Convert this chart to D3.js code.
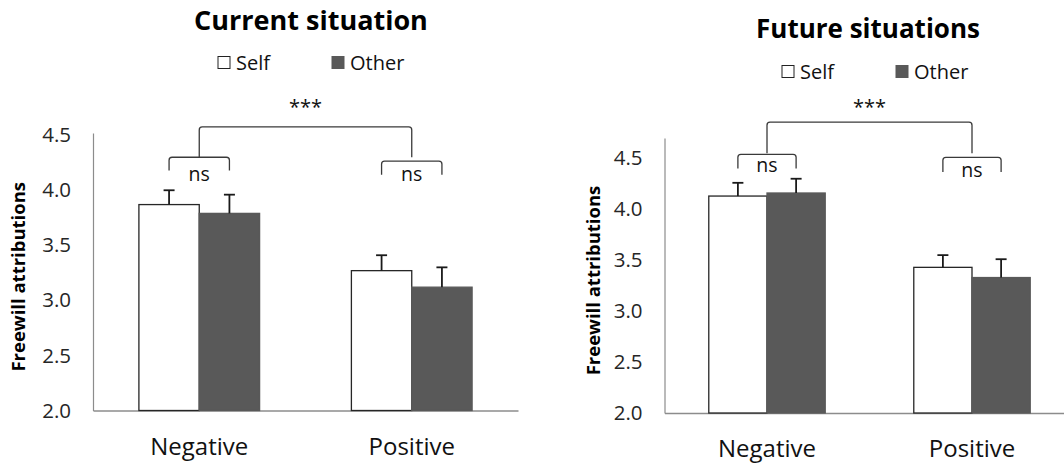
<!DOCTYPE html>
<html>
<head>
<meta charset="utf-8">
<script src="https://cdn.jsdelivr.net/npm/d3@7"></script>
<style>
  html, body { margin: 0; padding: 0; background: #fff; }
  svg { display: block; font-family: "Open Sans", "Noto Sans", sans-serif; }
</style>
</head>
<body>
<svg id="chart" width="1064" height="465"></svg>
<script>
// Category and group names
const categories = ["Negative", "Positive"];
const groups = ["Self", "Other"];
const yTicks = [2.0, 2.5, 3.0, 3.5, 4.0, 4.5];

// Current situation: means and standard errors (Negative, Positive)
const currentSelf = [3.87, 3.27];
const currentOther = [3.79, 3.12];
const currentSelfErr = [0.13, 0.14];
const currentOtherErr = [0.17, 0.18];

// Future situations: means and standard errors (Negative, Positive)
const futureSelf = [4.13, 3.43];
const futureOther = [4.16, 3.33];
const futureSelfErr = [0.13, 0.12];
const futureOtherErr = [0.14, 0.18];

// Significance labels
const mainEffectLabel = "***";
const pairLabels = ["ns", "ns"];

const svg = d3.select("#chart");
const fills = { Self: "#ffffff", Other: "#595959" };

function drawPanel(p) {
  const g = svg.append("g");
  const x0 = d3.scaleBand().domain(categories).range([p.left, p.right]).padding(0);
  const x1 = d3.scaleBand().domain(groups)
    .range([x0.bandwidth() * 0.216, x0.bandwidth() * 0.784]).padding(0);
  const y = d3.scaleLinear().domain([2, p.yMax]).range([p.bottom, p.top]);

  // Title
  g.append("text")
    .attr("x", p.titleX).attr("y", p.titleY)
    .attr("text-anchor", "middle")
    .attr("font-size", p.titleSize).attr("font-weight", 700).attr("fill", "#000")
    .text(p.title);

  // Legend
  const leg = g.append("g").attr("transform", `translate(${p.legendX},${p.legendY})`);
  groups.forEach((name, i) => {
    const item = leg.append("g").attr("transform", `translate(${i * 114},0)`);
    item.append("rect")
      .attr("x", 0).attr("y", -6.5).attr("width", 12).attr("height", 12)
      .attr("fill", fills[name])
      .attr("stroke", name === "Self" ? "#222" : "#595959").attr("stroke-width", 1);
    item.append("text")
      .attr("x", 18).attr("y", 0).attr("dy", "0.35em")
      .attr("font-size", 20).attr("fill", "#111")
      .text(name);
  });

  // Y axis (line only, no tick marks)
  const yAxis = d3.axisLeft(y).tickValues(yTicks).tickFormat(d3.format(".1f"))
    .tickSize(0).tickPadding(22);
  const ya = g.append("g").attr("transform", `translate(${p.left},0)`).call(yAxis);
  ya.select(".domain").attr("stroke", "#8c8c8c").attr("stroke-width", 1.2);
  ya.selectAll("text").attr("font-size", 20.5).attr("fill", "#262626")
    .attr("font-family", "'Open Sans', sans-serif");

  // X axis (baseline and category labels)
  const xAxis = d3.axisBottom(x0).tickSize(0).tickPadding(27);
  const xa = g.append("g").attr("transform", `translate(0,${p.bottom})`).call(xAxis);
  xa.select(".domain").attr("stroke", "#8c8c8c").attr("stroke-width", 1.5);
  xa.selectAll("text").attr("font-size", 24).attr("fill", "#111")
    .attr("font-family", "'Open Sans', sans-serif");

  // Y axis title
  g.append("text")
    .attr("transform", `translate(${p.yTitleX},${(p.top + p.bottom) / 2 + 5}) rotate(-90)`)
    .attr("text-anchor", "middle").attr("dy", "0.35em")
    .attr("font-size", 18.5).attr("font-weight", 700).attr("fill", "#000")
    .text("Freewill attributions");

  // Bars
  const rows = [];
  categories.forEach((c, i) => {
    rows.push({ cat: c, grp: "Self", v: p.self[i], e: p.selfErr[i] });
    rows.push({ cat: c, grp: "Other", v: p.other[i], e: p.otherErr[i] });
  });
  const cx = d => x0(d.cat) + x1(d.grp) + x1.bandwidth() / 2;

  g.selectAll("rect.bar").data(rows).join("rect")
    .attr("class", "bar")
    .attr("x", d => x0(d.cat) + x1(d.grp))
    .attr("y", d => y(d.v))
    .attr("width", x1.bandwidth())
    .attr("height", d => y(2) - y(d.v))
    .attr("fill", d => fills[d.grp])
    .attr("stroke", d => d.grp === "Self" ? "#262626" : "#595959")
    .attr("stroke-width", 1.3);

  // Upper error bars
  const eb = g.selectAll("g.err").data(rows).join("g").attr("class", "err")
    .attr("stroke", "#1a1a1a").attr("stroke-width", 1.8);
  eb.append("line")
    .attr("x1", cx).attr("x2", cx)
    .attr("y1", d => y(d.v)).attr("y2", d => y(d.v + d.e));
  eb.append("line")
    .attr("x1", d => cx(d) - 5.5).attr("x2", d => cx(d) + 5.5)
    .attr("y1", d => y(d.v + d.e)).attr("y2", d => y(d.v + d.e));

  // Bracket path with softly rounded corners
  const bracket = (xa, xb, top, bot) => {
    const r = 3;
    return `M${xa},${bot} L${xa},${top + r} Q${xa},${top} ${xa + r},${top} ` +
           `L${xb - r},${top} Q${xb},${top} ${xb},${top + r} L${xb},${bot}`;
  };
  const brk = g.append("g").attr("fill", "none").attr("stroke", "#3a3a3a").attr("stroke-width", 1.3);
  const selfC = c => x0(c) + x1("Self") + x1.bandwidth() / 2;
  const otherC = c => x0(c) + x1("Other") + x1.bandwidth() / 2;

  // Within-category brackets (Self vs Other)
  categories.forEach((c, i) => {
    const lv = p.pairLevels[i];
    brk.append("path").attr("d", bracket(selfC(c), otherC(c), y(lv[0]), y(lv[1])));
    g.append("text")
      .attr("x", x0(c) + x0.bandwidth() / 2).attr("y", y(lv[2]))
      .attr("dy", "0.35em").attr("text-anchor", "middle")
      .attr("font-size", 19.5).attr("fill", "#111")
      .text(pairLabels[i]);
  });

  // Between-category bracket (Negative vs Positive)
  const ca = x0(categories[0]) + x0.bandwidth() / 2;
  const cb = x0(categories[1]) + x0.bandwidth() / 2;
  brk.append("path").attr("d", bracket(ca, cb, y(p.mainLevel[0]), y(p.mainLevel[1])));
  g.append("text")
    .attr("x", (ca + cb) / 2).attr("y", y(p.mainLevel[2]))
    .attr("dy", "0.35em").attr("text-anchor", "middle")
    .attr("font-size", 20).attr("fill", "#111")
    .text(mainEffectLabel);
}

drawPanel({
  title: "Current situation", titleX: 311, titleY: 30, titleSize: 27,
  legendX: 218, legendY: 63,
  left: 93, right: 518, top: 133, bottom: 410.5, yMax: 4.52,
  yTitleX: 19,
  self: currentSelf, other: currentOther, selfErr: currentSelfErr, otherErr: currentOtherErr,
  pairLevels: [[4.30, 4.18, 4.15], [4.265, 4.14, 4.15]],
  mainLevel: [4.575, 4.30, 4.755]
});

drawPanel({
  title: "Future situations", titleX: 868, titleY: 38, titleSize: 26,
  legendX: 782, legendY: 72,
  left: 664.5, right: 1074.5, top: 138, bottom: 413, yMax: 4.7,
  yTitleX: 594,
  self: futureSelf, other: futureOther, selfErr: futureSelfErr, otherErr: futureOtherErr,
  pairLevels: [[4.54, 4.40, 4.43], [4.51, 4.365, 4.38]],
  mainLevel: [4.855, 4.55, 5.0]
});
</script>
</body>
</html>
